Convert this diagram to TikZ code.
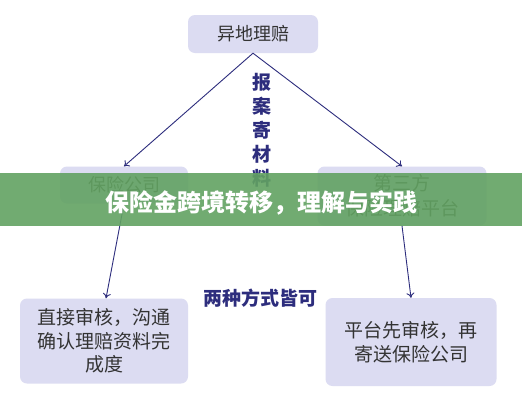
\documentclass[tikz,border=0pt]{standalone}
\usepackage{fontspec}
\newfontfamily\cjk{Noto Sans CJK SC}
\usetikzlibrary{arrows.meta}
\definecolor{boxfill}{RGB}{220,220,242}
\definecolor{navy}{RGB}{45,45,125}
\definecolor{bannergreen}{RGB}{98,162,98}
\begin{document}
\begin{tikzpicture}[x=1pt, y=-1pt, line cap=round, line join=round,
		card/.style={fill=boxfill, rounded corners=7pt, align=center, inner sep=0pt, font=\cjk\fontsize{18}{24}\selectfont, text=black!80},
		link/.style={navy, line width=0.9pt, -{To[length=5pt,width=8pt]}},
		tag/.style={navy, font=\cjk\bfseries\fontsize{19}{24}\selectfont, align=center}]
	% Window bounds (pixels of the reference)
	\useasboundingbox (0,0) rectangle (522,400);
	\fill[white] (0,0) rectangle (522,400);
	
	% Boxes
	\node[card, minimum width=130pt, minimum height=38pt] (claim) at (253,34) {异地理赔};
	\node[card, minimum width=128pt, minimum height=37pt] (insurer) at (124,185) {保险公司};
	\node[card, minimum width=169pt, minimum height=59pt, font=\cjk\fontsize{19}{25}\selectfont] (platform) at (402,196) {第三方\\保险理赔平台};
	\node[card, minimum width=168pt, minimum height=85pt, font=\cjk\fontsize{19}{23.5}\selectfont] (direct) at (104,341) {直接审核，沟通\\确认理赔资料完\\成度};
	\node[card, minimum width=171pt, minimum height=88pt, font=\cjk\fontsize{19}{23.5}\selectfont] (relay) at (411,342) {平台先审核，再\\寄送保险公司};
	
	% Labels in blue
	\node[tag] (mail) at (262,130) {报\\案\\寄\\材\\料};
	\node[tag] (either) at (260,298) {两种方式皆可};
	
	% Connectors
	\draw[link] (claim.south) -- (insurer.north);
	\draw[link] (claim.south) -- (platform.north);
	\draw[link] (insurer.south) -- ([xshift=2pt]direct.north);
	\draw[link] (platform.south) -- (relay.north);
	
	% Green banner over the middle
	\fill[bannergreen, fill opacity=0.9] (0,173) rectangle (522,226);
	\node[white, font=\cjk\bfseries\fontsize{24}{28}\selectfont] (title) at (261,203) {保险金跨境转移，理解与实践};
\end{tikzpicture}
\end{document}
